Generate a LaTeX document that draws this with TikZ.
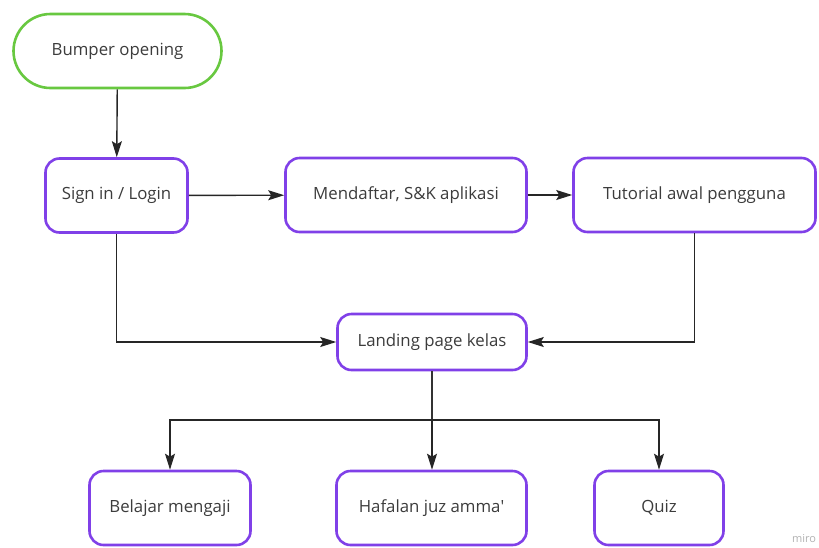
\documentclass[tikz,border=0pt]{standalone}
\usepackage{fontspec}
\setmainfont{Open Sans}
\usetikzlibrary{arrows.meta}
\definecolor{boxpurple}{RGB}{128,64,232}
\definecolor{startgreen}{RGB}{104,200,64}
\definecolor{txt}{RGB}{60,60,60}
\begin{document}
\begin{tikzpicture}[x=1pt,y=-1pt,
  box/.style={draw=boxpurple,line width=2.6pt,rounded corners=14pt,fill=white,
    text=txt,font=\fontsize{16.8}{20}\selectfont,inner sep=0pt},
  startbox/.style={box,draw=startgreen,rounded corners=37pt},
  flow/.style={draw=black!85,line width=1.4pt,-{Stealth[length=16pt,width=10pt,inset=3pt]}},
  link/.style={draw=black!80,line width=1.4pt}]
\useasboundingbox (0,0) rectangle (819,547);
\node[startbox,minimum width=208pt,minimum height=74pt] (bump) at (117.5,51) {Bumper opening};
\node[box,minimum width=142pt,minimum height=74pt] (sign) at (116.5,195.5) {Sign in / Login};
\node[box,minimum width=241pt,minimum height=74pt] (daftar) at (406,195) {Mendaftar, S\&K aplikasi};
\node[box,minimum width=242pt,minimum height=74pt] (tut) at (694.5,195) {Tutorial awal pengguna};
\node[box,minimum width=189pt,minimum height=56pt] (land) at (432,342) {Landing page kelas};
\node[box,minimum width=161pt,minimum height=74pt] (bel) at (170,508) {Belajar mengaji};
\node[box,minimum width=190pt,minimum height=74pt] (haf) at (431.5,508) {Hafalan juz amma\textquotesingle};
\node[box,minimum width=129pt,minimum height=74pt] (quiz) at (659,508) {Quiz};
\node[text=black!30,font=\fontsize{11}{12}\selectfont] (mark) at (804,539) {miro};

\coordinate (split) at (432,420);
\draw[flow] (bump) -- (sign);
\draw[flow] (sign) -- (daftar);
\draw[flow] (daftar) -- (tut);
\draw[flow] (sign.south) |- (land.west);
\draw[flow] (tut.south) |- (land.east);
\draw[link] (land.south) -- (split);
\draw[flow] (split) -| (bel.north);
\draw[flow] (split) -- (haf.north -| split);
\draw[flow] (split) -| (quiz.north);
\end{tikzpicture}
\end{document}
